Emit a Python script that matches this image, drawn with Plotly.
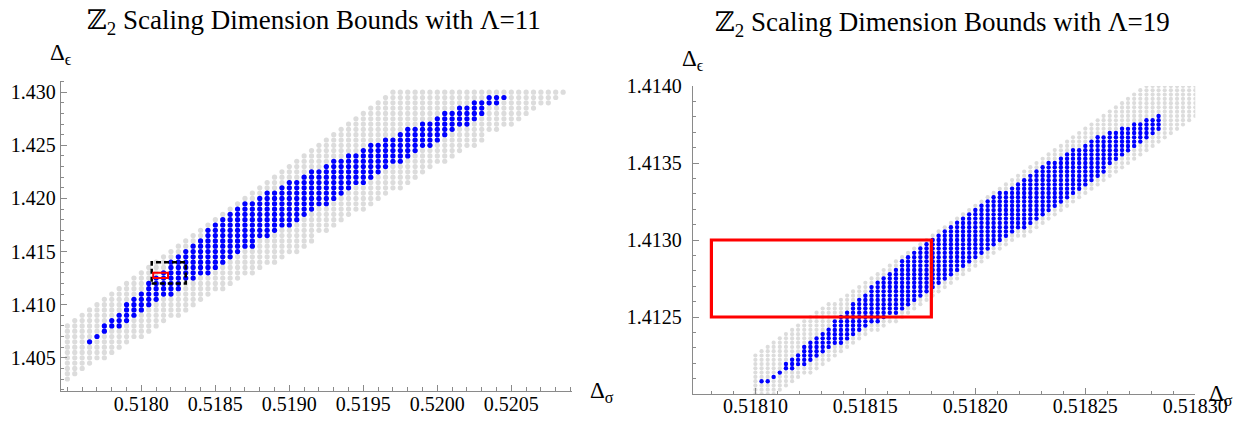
import plotly.graph_objects as go

# ---------------- Left panel (Lambda = 11) ----------------
L_X = [0.51750, 0.51755, 0.51760, 0.51765, 0.51770, 0.51775, 0.51780, 0.51785, 0.51790, 0.51795,
       0.51800, 0.51805, 0.51810, 0.51815, 0.51820, 0.51825, 0.51830, 0.51835, 0.51840, 0.51845,
       0.51850, 0.51855, 0.51860, 0.51865, 0.51870, 0.51875, 0.51880, 0.51885, 0.51890, 0.51895,
       0.51900, 0.51905, 0.51910, 0.51915, 0.51920, 0.51925, 0.51930, 0.51935, 0.51940, 0.51945,
       0.51950, 0.51955, 0.51960, 0.51965, 0.51970, 0.51975, 0.51980, 0.51985, 0.51990, 0.51995,
       0.52000, 0.52005, 0.52010, 0.52015, 0.52020, 0.52025, 0.52030, 0.52035, 0.52040, 0.52045,
       0.52050, 0.52055, 0.52060, 0.52065, 0.52070, 0.52075, 0.52080, 0.52085]
L_GRAY_LO = [1.4030, 1.4035, 1.4040, 1.4045, 1.4050, 1.4050, 1.4055, 1.4060, 1.4065, 1.4070,
             1.4070, 1.4075, 1.4080, 1.4085, 1.4090, 1.4090, 1.4095, 1.4100, 1.4105, 1.4110,
             1.4115, 1.4115, 1.4120, 1.4125, 1.4130, 1.4130, 1.4135, 1.4140, 1.4140, 1.4145,
             1.4150, 1.4150, 1.4155, 1.4160, 1.4170, 1.4170, 1.4175, 1.4180, 1.4185, 1.4190,
             1.4190, 1.4195, 1.4200, 1.4205, 1.4210, 1.4210, 1.4215, 1.4220, 1.4225, 1.4230,
             1.4235, 1.4235, 1.4240, 1.4245, 1.4250, 1.4250, 1.4255, 1.4265, 1.4265, 1.4270,
             1.4270, 1.4275, 1.4280, 1.4285, 1.4290, 1.4290, 1.4295, 1.4300]
L_GRAY_HI = [1.4080, 1.4085, 1.4090, 1.4095, 1.4100, 1.4105, 1.4110, 1.4115, 1.4120, 1.4125,
             1.4130, 1.4135, 1.4140, 1.4145, 1.4150, 1.4155, 1.4160, 1.4165, 1.4170, 1.4175,
             1.4180, 1.4185, 1.4190, 1.4195, 1.4200, 1.4205, 1.4210, 1.4215, 1.4220, 1.4225,
             1.4230, 1.4235, 1.4240, 1.4245, 1.4250, 1.4255, 1.4260, 1.4265, 1.4270, 1.4275,
             1.4280, 1.4285, 1.4290, 1.4295, 1.4300, 1.4300, 1.4300, 1.4300, 1.4300, 1.4300,
             1.4300, 1.4300, 1.4300, 1.4300, 1.4300, 1.4300, 1.4300, 1.4300, 1.4300, 1.4300,
             1.4300, 1.4300, 1.4300, 1.4300, 1.4300, 1.4300, 1.4300, 1.4300]
L_BLUE_X = [0.51765, 0.51770, 0.51775, 0.51780, 0.51785, 0.51790, 0.51795, 0.51800, 0.51805, 0.51810,
            0.51815, 0.51820, 0.51825, 0.51830, 0.51835, 0.51840, 0.51845, 0.51850, 0.51855, 0.51860,
            0.51865, 0.51870, 0.51875, 0.51880, 0.51885, 0.51890, 0.51895, 0.51900, 0.51905, 0.51910,
            0.51915, 0.51920, 0.51925, 0.51930, 0.51935, 0.51940, 0.51945, 0.51950, 0.51955, 0.51960,
            0.51965, 0.51970, 0.51975, 0.51980, 0.51985, 0.51990, 0.51995, 0.52000, 0.52005, 0.52010,
            0.52015, 0.52020, 0.52025, 0.52030, 0.52035, 0.52040, 0.52045]
L_BLUE_LO = [1.4065, 1.4070, 1.4075, 1.4080, 1.4080, 1.4085, 1.4090, 1.4095, 1.4100, 1.4105,
             1.4110, 1.4110, 1.4115, 1.4125, 1.4125, 1.4130, 1.4130, 1.4135, 1.4140, 1.4145,
             1.4150, 1.4155, 1.4155, 1.4165, 1.4165, 1.4170, 1.4175, 1.4175, 1.4180, 1.4185,
             1.4190, 1.4195, 1.4195, 1.4200, 1.4205, 1.4210, 1.4215, 1.4215, 1.4220, 1.4225,
             1.4230, 1.4235, 1.4235, 1.4240, 1.4245, 1.4250, 1.4250, 1.4255, 1.4260, 1.4265,
             1.4270, 1.4270, 1.4275, 1.4280, 1.4290, 1.4290, 1.4295]
L_BLUE_HI = [1.4065, 1.4070, 1.4080, 1.4085, 1.4090, 1.4100, 1.4105, 1.4110, 1.4120, 1.4125,
             1.4130, 1.4140, 1.4145, 1.4150, 1.4155, 1.4160, 1.4170, 1.4175, 1.4180, 1.4185,
             1.4190, 1.4195, 1.4195, 1.4200, 1.4205, 1.4205, 1.4210, 1.4215, 1.4215, 1.4220,
             1.4225, 1.4225, 1.4230, 1.4235, 1.4235, 1.4240, 1.4240, 1.4245, 1.4250, 1.4250,
             1.4255, 1.4255, 1.4260, 1.4265, 1.4265, 1.4270, 1.4270, 1.4275, 1.4280, 1.4280,
             1.4285, 1.4285, 1.4290, 1.4290, 1.4295, 1.4295, 1.4295]
L_ROW_STEP = 0.0005

L_XTICKS = [0.5180, 0.5185, 0.5190, 0.5195, 0.5200, 0.5205]
L_XLABELS = ["0.5180", "0.5185", "0.5190", "0.5195", "0.5200", "0.5205"]
L_YTICKS = [1.405, 1.410, 1.415, 1.420, 1.425, 1.430]
L_YLABELS = ["1.405", "1.410", "1.415", "1.420", "1.425", "1.430"]

# ---------------- Right panel (Lambda = 19) ----------------
R_X = [0.5181000, 0.5181028, 0.5181056, 0.5181083, 0.5181111, 0.5181139, 0.5181167, 0.5181194, 0.5181222, 0.5181250,
       0.5181278, 0.5181306, 0.5181333, 0.5181361, 0.5181389, 0.5181417, 0.5181444, 0.5181472, 0.5181500, 0.5181528,
       0.5181556, 0.5181583, 0.5181611, 0.5181639, 0.5181667, 0.5181694, 0.5181722, 0.5181750, 0.5181778, 0.5181806,
       0.5181833, 0.5181861, 0.5181889, 0.5181917, 0.5181944, 0.5181972, 0.5182000, 0.5182028, 0.5182056, 0.5182083,
       0.5182111, 0.5182139, 0.5182167, 0.5182194, 0.5182222, 0.5182250, 0.5182278, 0.5182306, 0.5182333, 0.5182361,
       0.5182389, 0.5182417, 0.5182444, 0.5182472, 0.5182500, 0.5182528, 0.5182556, 0.5182583, 0.5182611, 0.5182639,
       0.5182667, 0.5182694, 0.5182722, 0.5182750, 0.5182778, 0.5182806, 0.5182833, 0.5182861, 0.5182889, 0.5182917,
       0.5182944, 0.5182972, 0.5183000]
R_GRAY_LO = [1.412000, 1.412000, 1.412000, 1.412000, 1.412028, 1.412056, 1.412083, 1.412111, 1.412139, 1.412139,
             1.412167, 1.412194, 1.412222, 1.412250, 1.412278, 1.412306, 1.412333, 1.412361, 1.412389, 1.412417,
             1.412417, 1.412444, 1.412472, 1.412472, 1.412500, 1.412528, 1.412556, 1.412583, 1.412611, 1.412639,
             1.412667, 1.412694, 1.412722, 1.412750, 1.412778, 1.412806, 1.412833, 1.412861, 1.412889, 1.412917,
             1.412944, 1.412972, 1.413000, 1.413028, 1.413028, 1.413056, 1.413083, 1.413111, 1.413139, 1.413167,
             1.413194, 1.413222, 1.413250, 1.413278, 1.413306, 1.413333, 1.413361, 1.413389, 1.413417, 1.413444,
             1.413472, 1.413500, 1.413528, 1.413556, 1.413583, 1.413611, 1.413639, 1.413667, 1.413694, 1.413722,
             1.413750, 1.413778, 1.413806]
R_GRAY_HI = [1.412250, 1.412278, 1.412306, 1.412333, 1.412361, 1.412389, 1.412417, 1.412444, 1.412472, 1.412500,
             1.412528, 1.412556, 1.412583, 1.412583, 1.412611, 1.412639, 1.412667, 1.412694, 1.412722, 1.412750,
             1.412778, 1.412806, 1.412833, 1.412861, 1.412889, 1.412917, 1.412944, 1.412972, 1.413000, 1.413028,
             1.413056, 1.413083, 1.413111, 1.413139, 1.413167, 1.413194, 1.413222, 1.413250, 1.413278, 1.413306,
             1.413333, 1.413361, 1.413389, 1.413417, 1.413444, 1.413472, 1.413500, 1.413528, 1.413556, 1.413583,
             1.413611, 1.413639, 1.413667, 1.413694, 1.413722, 1.413750, 1.413778, 1.413806, 1.413833, 1.413861,
             1.413889, 1.413917, 1.413944, 1.413972, 1.414000, 1.414000, 1.414000, 1.414000, 1.414000, 1.414000,
             1.414000, 1.414000, 1.414000]
R_BLUE_X = [0.5181028, 0.5181056, 0.5181083, 0.5181111, 0.5181139, 0.5181167, 0.5181194, 0.5181222, 0.5181250, 0.5181278,
            0.5181306, 0.5181333, 0.5181361, 0.5181389, 0.5181417, 0.5181444, 0.5181472, 0.5181500, 0.5181528, 0.5181556,
            0.5181583, 0.5181611, 0.5181639, 0.5181667, 0.5181694, 0.5181722, 0.5181750, 0.5181778, 0.5181806, 0.5181833,
            0.5181861, 0.5181889, 0.5181917, 0.5181944, 0.5181972, 0.5182000, 0.5182028, 0.5182056, 0.5182083, 0.5182111,
            0.5182139, 0.5182167, 0.5182194, 0.5182222, 0.5182250, 0.5182278, 0.5182306, 0.5182333, 0.5182361, 0.5182389,
            0.5182417, 0.5182444, 0.5182472, 0.5182500, 0.5182528, 0.5182556, 0.5182583, 0.5182611, 0.5182639, 0.5182667,
            0.5182694, 0.5182722, 0.5182750, 0.5182778, 0.5182806, 0.5182833]
R_BLUE_LO = [1.412083, 1.412083, 1.412111, 1.412139, 1.412167, 1.412167, 1.412194, 1.412194, 1.412222, 1.412250,
             1.412278, 1.412306, 1.412333, 1.412333, 1.412361, 1.412389, 1.412417, 1.412444, 1.412472, 1.412472,
             1.412500, 1.412528, 1.412528, 1.412556, 1.412583, 1.412611, 1.412639, 1.412667, 1.412694, 1.412722,
             1.412750, 1.412778, 1.412806, 1.412833, 1.412861, 1.412889, 1.412917, 1.412944, 1.412972, 1.413000,
             1.413028, 1.413056, 1.413083, 1.413083, 1.413111, 1.413139, 1.413167, 1.413194, 1.413222, 1.413250,
             1.413278, 1.413306, 1.413333, 1.413361, 1.413389, 1.413417, 1.413444, 1.413500, 1.413528, 1.413556,
             1.413583, 1.413611, 1.413639, 1.413667, 1.413694, 1.413722]
R_BLUE_HI = [1.412083, 1.412083, 1.412111, 1.412139, 1.412194, 1.412222, 1.412250, 1.412306, 1.412333, 1.412361,
             1.412389, 1.412417, 1.412472, 1.412500, 1.412528, 1.412583, 1.412611, 1.412639, 1.412694, 1.412722,
             1.412750, 1.412778, 1.412806, 1.412861, 1.412889, 1.412917, 1.412944, 1.412972, 1.413000, 1.413028,
             1.413056, 1.413083, 1.413111, 1.413139, 1.413167, 1.413194, 1.413222, 1.413250, 1.413278, 1.413306,
             1.413306, 1.413333, 1.413361, 1.413389, 1.413417, 1.413444, 1.413472, 1.413500, 1.413500, 1.413528,
             1.413556, 1.413583, 1.413583, 1.413611, 1.413639, 1.413667, 1.413667, 1.413694, 1.413694, 1.413722,
             1.413722, 1.413750, 1.413750, 1.413778, 1.413778, 1.413806]
R_ROW_STEP = 0.002 / 72

R_XTICKS = [0.51810, 0.51815, 0.51820, 0.51825, 0.51830]
R_XLABELS = ["0.51810", "0.51815", "0.51820", "0.51825", "0.51830"]
R_YTICKS = [1.4125, 1.4130, 1.4135, 1.4140]
R_YLABELS = ["1.4125", "1.4130", "1.4135", "1.4140"]

# Boxes
SMALL_BOX = dict(x0=0.51808, x1=0.51818, y0=1.4125, y1=1.4130)   # red box
ZOOM_BOX = dict(x0=0.51807, x1=0.51830, y0=1.4120, y1=1.4140)    # dashed box (right panel range)

TITLES = ["ℤ<sub>2</sub> Scaling Dimension Bounds with Λ=11",
          "ℤ<sub>2</sub> Scaling Dimension Bounds with Λ=19"]


def expand(xs, los, his, step):
    px, py = [], []
    for x, lo, hi in zip(xs, los, his):
        n = int(round((hi - lo) / step))
        for k in range(n + 1):
            px.append(x)
            py.append(lo + k * step)
    return px, py


# The page body has an 8px default margin, so the figure is offset by it
# and all screen positions are measured relative to that offset.
OFF = 8
W, H = 1243 - 2 * OFF, 423 - OFF
SERIF = "Liberation Serif, Times New Roman, DejaVu Serif, serif"
GRAY = "#dcdcdc"
BLUE = "#0000ff"
AXIS = "#8a8a8a"

fig = go.Figure()

gx, gy = expand(L_X, L_GRAY_LO, L_GRAY_HI, L_ROW_STEP)
bx, by = expand(L_BLUE_X, L_BLUE_LO, L_BLUE_HI, L_ROW_STEP)
fig.add_trace(go.Scatter(x=gx, y=gy, mode="markers", xaxis="x", yaxis="y",
                         marker=dict(size=5.2, color=GRAY, line=dict(width=0)), hoverinfo="skip"))
fig.add_trace(go.Scatter(x=bx, y=by, mode="markers", xaxis="x", yaxis="y",
                         marker=dict(size=5.2, color=BLUE, line=dict(width=0)), hoverinfo="skip"))

gx2, gy2 = expand(R_X, R_GRAY_LO, R_GRAY_HI, R_ROW_STEP)
bx2, by2 = expand(R_BLUE_X, R_BLUE_LO, R_BLUE_HI, R_ROW_STEP)
fig.add_trace(go.Scatter(x=gx2, y=gy2, mode="markers", xaxis="x2", yaxis="y2",
                         marker=dict(size=4.2, color=GRAY, line=dict(width=0)), hoverinfo="skip"))
fig.add_trace(go.Scatter(x=bx2, y=by2, mode="markers", xaxis="x2", yaxis="y2",
                         marker=dict(size=4.4, color=BLUE, line=dict(width=0)), hoverinfo="skip"))


def px_x(p):
    return (p - OFF) / W


def px_y(p):
    return 1 - (p - OFF) / H


common = dict(showgrid=False, zeroline=False, showline=True, linecolor=AXIS, linewidth=1,
              ticks="inside", ticklen=6, tickwidth=1, tickcolor=AXIS, mirror=False, automargin=False,
              tickfont=dict(family=SERIF, size=20, color="black"), tickmode="array")

fig.update_layout(
    width=W, height=H, margin=dict(l=0, r=0, t=0, b=0, autoexpand=False),
    paper_bgcolor="white", plot_bgcolor="white", showlegend=False,
    xaxis=dict(domain=[px_x(60.7), px_x(572)], range=[0.517455, 0.52091], anchor="y",
               tickvals=L_XTICKS, ticktext=L_XLABELS, ticklabelstandoff=-5,
               minor=dict(ticks="inside", ticklen=3.5, tickcolor=AXIS, tick0=0.5175, dtick=0.0001), **common),
    yaxis=dict(domain=[px_y(390.7), px_y(80.5)], range=[1.4019, 1.4311], anchor="x",
               tickvals=L_YTICKS, ticktext=L_YLABELS, ticklabelstandoff=0,
               minor=dict(ticks="inside", ticklen=3.5, tickcolor=AXIS, tick0=1.402, dtick=0.001), **common),
    xaxis2=dict(domain=[px_x(692.7), px_x(1195.3)], range=[0.5180715, 0.51830], anchor="y2",
                tickvals=R_XTICKS, ticktext=R_XLABELS, ticklabelstandoff=-6,
                minor=dict(ticks="inside", ticklen=3.5, tickcolor=AXIS, tick0=0.51808, dtick=0.00001), **common),
    yaxis2=dict(domain=[px_y(394), px_y(86)], range=[1.4120, 1.4140], anchor="x2",
                tickvals=R_YTICKS, ticktext=R_YLABELS, ticklabelstandoff=6,
                minor=dict(ticks="inside", ticklen=3.5, tickcolor=AXIS, tick0=1.412, dtick=0.0001), **common),
)

shapes = [
    dict(type="rect", xref="x", yref="y", line=dict(color="black", width=2.5, dash="5px,3px"),
         layer="above", **ZOOM_BOX),
    dict(type="rect", xref="x", yref="y", line=dict(color="#ff0000", width=2),
         layer="above", **SMALL_BOX),
    dict(type="rect", xref="x2", yref="y2", line=dict(color="#ff0000", width=3.2),
         layer="above", **SMALL_BOX),
]
fig.update_layout(shapes=shapes)

ann = []
ann.append(dict(x=px_x(314), y=px_y(22), xref="paper", yref="paper", text=TITLES[0], showarrow=False,
                xanchor="center", yanchor="middle", font=dict(family=SERIF, size=27, color="black")))
ann.append(dict(x=px_x(942), y=px_y(24), xref="paper", yref="paper", text=TITLES[1], showarrow=False,
                xanchor="center", yanchor="middle", font=dict(family=SERIF, size=27, color="black")))
for (lx, cy, t) in [(48, 54, "Δ<sub>ϵ</sub>"), (680, 60, "Δ<sub>ϵ</sub>"),
                    (588, 392, "Δ<sub>σ</sub>"), (1207, 395, "Δ<sub>σ</sub>")]:
    ann.append(dict(x=px_x(lx), y=px_y(cy), xref="paper", yref="paper", text=t, showarrow=False,
                    xanchor="left", yanchor="middle", font=dict(family=SERIF, size=23, color="black")))
fig.update_layout(annotations=ann)

fig.write_html("out.html")
